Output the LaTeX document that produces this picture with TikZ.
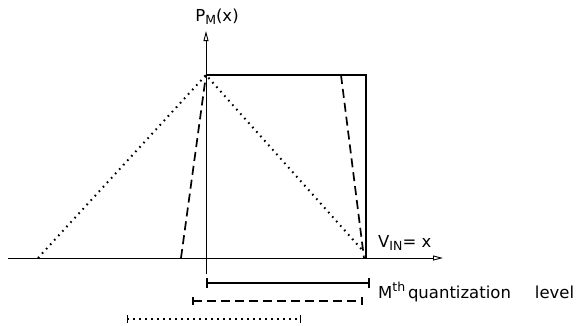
\documentclass[tikz,border=0pt]{standalone}
\usepackage{fontspec}
\setmainfont{DejaVu Sans}
\usetikzlibrary{arrows.meta}
\newcommand{\mysub}[1]{\raisebox{-0.3ex}{\fontsize{12.5}{12.5}\selectfont #1}}
\newcommand{\mysup}[1]{\raisebox{0.7ex}{\fontsize{12.5}{12.5}\selectfont #1}}
\begin{document}
\begin{tikzpicture}[x=1pt,y=-1pt,
  axis/.style={line width=0.9pt,-{Triangle[open,length=10pt,width=5pt]}},
  sol/.style={line width=1.7pt},
  dsh/.style={line width=1.7pt,dash pattern=on 9pt off 5pt},
  dot/.style={line width=2pt,dash pattern=on 1.6pt off 4.4pt},
  lbl/.style={inner sep=0pt,font=\fontsize{16.5}{18}\selectfont}]
\useasboundingbox (0,0) rectangle (581,325);
% coordinates
\coordinate (O) at (206,258);
\coordinate (top) at (206,75);
\coordinate (tr) at (366,75);
\coordinate (br) at (366,258);
\coordinate (dl) at (181,258);
\coordinate (dtr) at (341,75);
\coordinate (dbr) at (364,258);
\coordinate (pl) at (38,258);
\coordinate (pr) at (364,252);
\coordinate (xs) at (8,258);
\coordinate (xe) at (443,258);
\coordinate (ys) at (206,274);
\coordinate (ye) at (206,31);
% axes
\draw[axis] (xs) -- (xe);
\draw[axis] (ys) -- (ye);
% solid
\draw[sol] (top) -- (tr) -- (br);
% dashed
\draw[dsh] (dl) -- (top);
\draw[dsh] (dtr) -- (dbr);
% dotted
\draw[dot] (pl) -- (top) -- (pr);
% labels
\node[lbl] (pm) at (217,17) {P\mysub{M}(x)};
\node[lbl,anchor=west] (vin) at (378,243) {V\mysub{IN}= x};
% bars
\coordinate (b1a) at (207,283); \coordinate (b1b) at (369,283);
\coordinate (b2a) at (193,301); \coordinate (b2b) at (362,301);
\coordinate (b3a) at (127,319); \coordinate (b3b) at (300,319);
\draw[sol,line width=1.5pt] (b1a) -- (b1b);
\draw[line width=1.2pt] (b1a)++(0,-5) -- ++(0,10);
\draw[line width=1.2pt] (b1b)++(0,-5) -- ++(0,10);
\draw[dsh,line width=1.6pt] (b2a) -- (b2b);
\draw[line width=1.2pt] (b2a)++(0,-4) -- ++(0,8);
\draw[line width=1.2pt] (b2b)++(0,-4) -- ++(0,8);
\draw[dot,line width=1.6pt] (b3a) -- (b3b);
\draw[line width=1pt] (b3a)++(0,-4) -- ++(0,8);
\draw[line width=1pt] (b3b)++(0,-4) -- ++(0,8);
\node[lbl,anchor=west] (ml) at (378,292) {M\mysup{th}\,quantization\hspace{24pt}level};
\end{tikzpicture}
\end{document}
